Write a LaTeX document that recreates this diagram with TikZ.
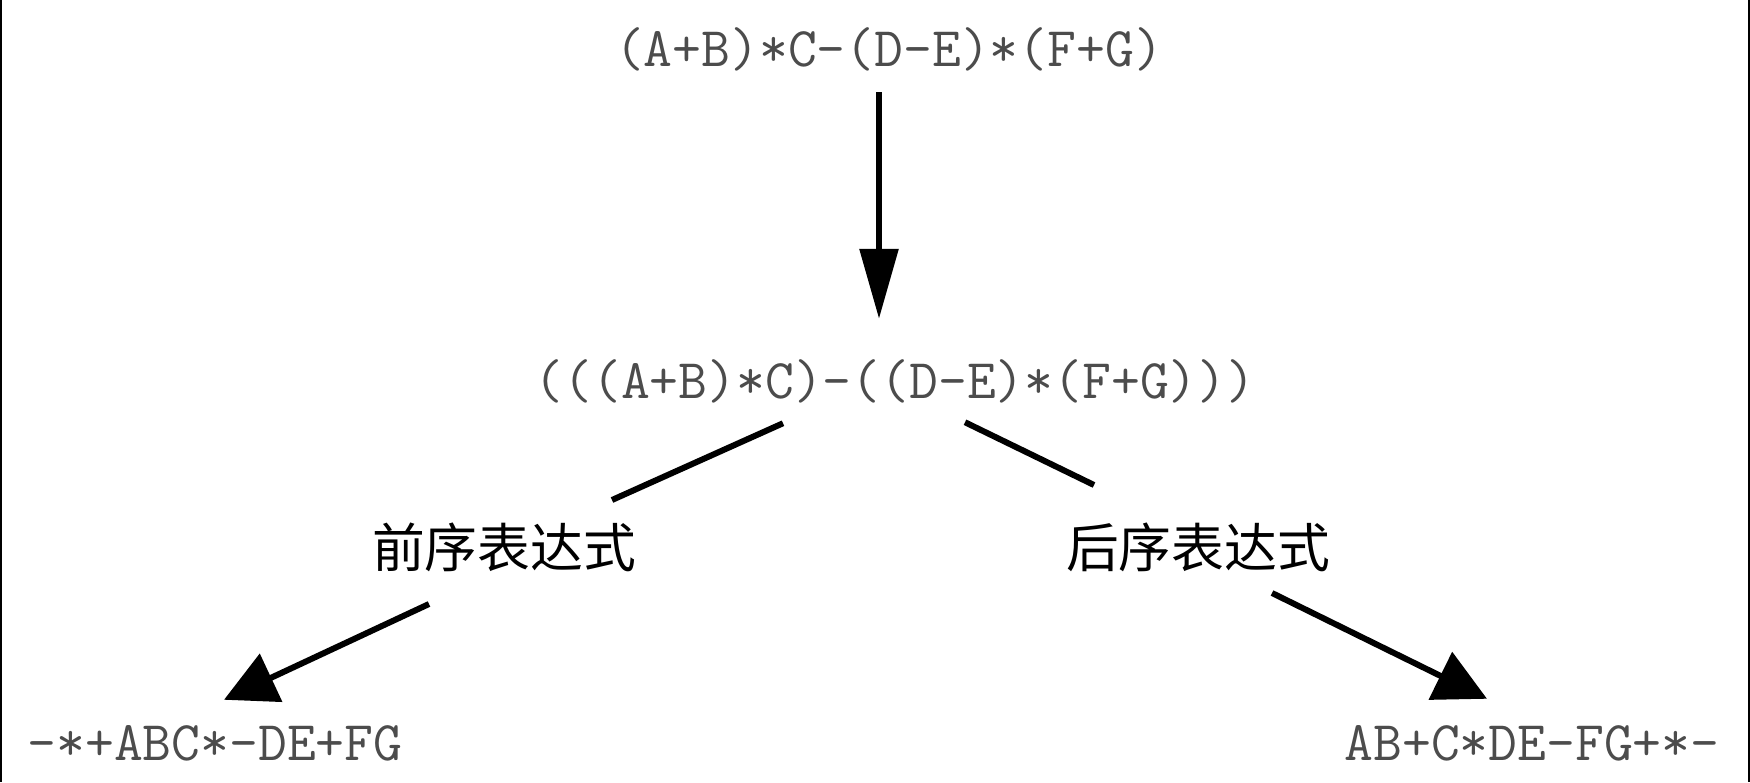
\documentclass[tikz,border=0pt]{standalone}
\usepackage{fontspec}
\newfontfamily\cjk{Noto Sans CJK SC}
\usetikzlibrary{arrows.meta,calc}

\begin{document}
\begin{tikzpicture}[x=0.5pt,y=-0.5pt,line width=3pt,
  expr/.style={inner sep=0pt,text height=17.5pt,text depth=4.75pt,text=black!70,
    font=\ttfamily\fontsize{28pt}{33pt}\selectfont},
  lbl/.style={inner sep=0pt,text height=21pt,text depth=5pt,
    font=\cjk\fontsize{26.4pt}{30pt}\selectfont},
  vtip/.style={-{Triangle[length=35pt,width=19pt]}},
  dtip/.style={-{Triangle[length=26pt,width=26pt]}}]
\useasboundingbox(0,0)rectangle(1750,782);
\draw[line width=0.75pt](1,0)--(1,782)(1749,0)--(1749,782);
\node[expr](infix)at(889,54){(A+B)*C-(D-E)*(F+G)};
\node[expr](full)at(895,386){(((A+B)*C)-((D-E)*(F+G)))};
\node[lbl](prelbl)at(504,551){前序表达式};
\node[lbl](postlbl)at(1198,551){后序表达式};
\node[expr](prefix)at(215,748){-*+ABC*-DE+FG};
\node[expr](postfix)at(1532,748){AB+C*DE-FG+*-};
\draw[vtip]($(infix.south)+(-10,13)$)--($(full.north)+(-16,-42)$);
\draw($(full.south)+(-112,12)$)--($(prelbl.north)+(108,-22)$);
\draw($(full.south)+(70,11)$)--($(postlbl.north)+(-104,-37)$);
\foreach \x/\y/\a/\b/\c/\d in {prelbl/prefix/-75/24/9/-23,postlbl/postfix/74/13/-45/-24}
\draw[dtip]($(\x.south)+(\a,\b)$)--($(\y.north)+(\c,\d)$);
\end{tikzpicture}
\end{document}
